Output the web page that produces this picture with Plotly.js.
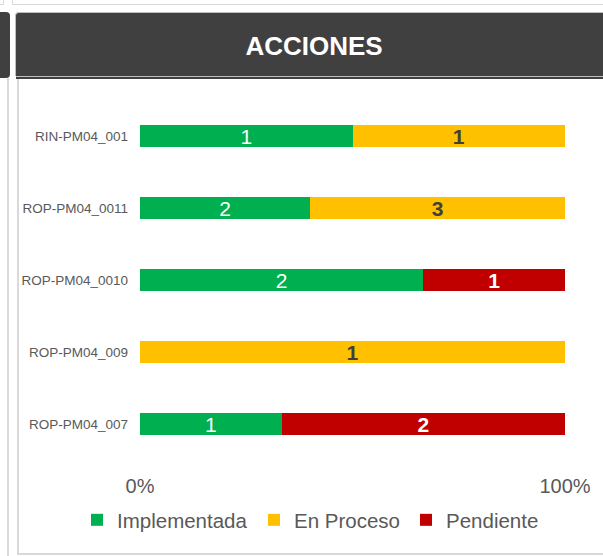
<!DOCTYPE html>
<html>
<head>
<meta charset="utf-8">
<script src="https://cdn.plot.ly/plotly-3.0.1.min.js"></script>
<style>
  html, body { margin:0; padding:0; background:#ffffff; }
  #wrap { position:relative; width:603px; height:556px; overflow:hidden; }
  .abs { position:absolute; box-sizing:border-box; }
  #chart { position:absolute; left:0; top:0; width:603px; height:556px; }
</style>
</head>
<body>
<div id="wrap">
  <div class="abs" style="left:-2px;top:-4px;width:6px;height:9px;border:1px solid #d9d9d9;"></div>
  <div class="abs" style="left:12px;top:-4px;width:600px;height:9px;border:1px solid #d9d9d9;"></div>
  <div class="abs" style="left:-4px;top:12px;width:14px;height:66px;background:#404040;border-radius:0 4px 4px 0;"></div>
  <div class="abs" style="left:15px;top:12px;width:600px;height:64px;background:#404040;border-radius:4px 0 0 0;border-left:1px solid #bfbfbf;border-top:1px solid #bfbfbf;"></div>
  <div class="abs" style="left:16px;top:76px;width:600px;height:1px;background:#bfbfbf;"></div>
  <div class="abs" style="left:16px;top:77px;width:600px;height:2px;background:#404040;"></div>
  <div class="abs" style="left:7px;top:78px;width:2px;height:490px;background:#d9d9d9;"></div>
  <div class="abs" style="left:17px;top:79px;width:600px;height:476px;border:2px solid #d9d9d9;border-top:none;"></div>
  <div id="chart"></div>
</div>
<script>
const categories = ["RIN-PM04_001", "ROP-PM04_0011", "ROP-PM04_0010", "ROP-PM04_009", "ROP-PM04_007"];
const implementada = [1, 2, 2, 0, 1];
const enProceso = [1, 3, 0, 1, 0];
const pendiente = [0, 0, 1, 0, 2];
const seriesNames = ["Implementada", "En Proceso", "Pendiente"];
const seriesColors = ["#00B050", "#FFC000", "#C00000"];
const tickVals = [0, 100];
const tickText = ["0%", "100%"];

function labels(arr) { return arr.map(v => v > 0 ? String(v) : ""); }

const FONT = "Arial, Liberation Sans, sans-serif";
const textStyles = [
  {color: "#ffffff", size: 21, family: FONT, weight: "normal"},
  {color: "#404040", size: 21, family: FONT, weight: "bold"},
  {color: "#ffffff", size: 21, family: FONT, weight: "bold"}
];
const legendIds = ["legend", "legend2", "legend3"];
const legendX = [77, 254, 406];

const seriesValues = [implementada, enProceso, pendiente];
const traces = seriesValues.map((vals, i) => ({
  type: "bar",
  orientation: "h",
  name: seriesNames[i],
  legend: legendIds[i],
  y: categories,
  x: vals,
  text: labels(vals),
  textposition: "inside",
  insidetextanchor: "middle",
  textangle: 0,
  constraintext: "none",
  textfont: textStyles[i],
  hoverinfo: "none",
  marker: {color: seriesColors[i], line: {width: 0}}
}));

function legendBox(px) {
  return {
    orientation: "h",
    xref: "container",
    yref: "container",
    x: px / 603,
    xanchor: "left",
    y: 1 - 520 / 556,
    yanchor: "middle",
    font: {size: 20.5, color: "#595959", family: FONT},
    bgcolor: "rgba(0,0,0,0)",
    itemclick: false,
    itemdoubleclick: false
  };
}

const layout = {
  width: 603,
  height: 556,
  paper_bgcolor: "rgba(0,0,0,0)",
  plot_bgcolor: "rgba(0,0,0,0)",
  barmode: "stack",
  barnorm: "percent",
  bargap: 0.69,
  margin: {l: 140, r: 38, t: 100, b: 96, pad: 0, autoexpand: false},
  font: {family: FONT, color: "#595959"},
  title: {
    text: "<b>ACCIONES</b>",
    font: {size: 26, color: "#ffffff", family: FONT},
    x: 314 / 603, xref: "container", xanchor: "center",
    y: 1 - 46 / 556, yref: "container", yanchor: "middle"
  },
  xaxis: {
    range: [0, 100],
    tickmode: "array",
    tickvals: tickVals,
    ticktext: tickText,
    showgrid: true,
    gridcolor: "#d9d9d9",
    gridwidth: 2,
    zeroline: false,
    showline: false,
    ticks: "",
    ticklabelstandoff: 12,
    tickfont: {size: 20, color: "#595959"},
    automargin: false,
    fixedrange: true
  },
  yaxis: {
    type: "category",
    autorange: "reversed",
    showgrid: false,
    zeroline: false,
    showline: false,
    ticks: "",
    ticklabelstandoff: 11,
    tickfont: {size: 13.5, color: "#595959"},
    automargin: false,
    fixedrange: true
  },
  showlegend: true,
  legend: legendBox(legendX[0]),
  legend2: legendBox(legendX[1]),
  legend3: legendBox(legendX[2])
};

Plotly.newPlot("chart", traces, layout, {displayModeBar: false, staticPlot: true});
</script>
</body>
</html>
